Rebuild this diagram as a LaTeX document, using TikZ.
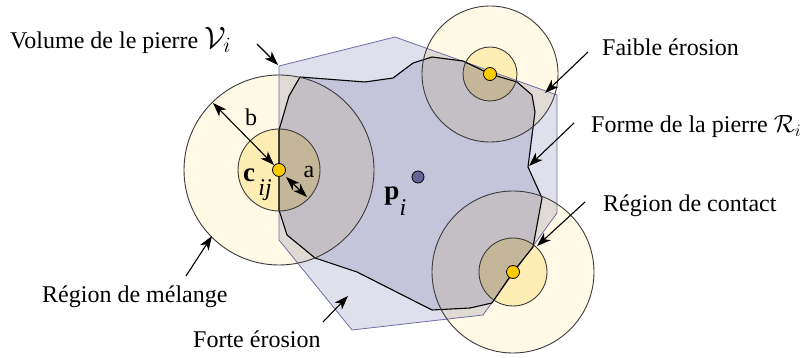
\documentclass[tikz,border=0pt]{standalone}
\usepackage{fix-cm}
\usepackage{fontspec}
\setmainfont{Liberation Serif}
\usetikzlibrary{arrows.meta}
\definecolor{outerc}{RGB}{255,249,230}
\definecolor{innerc}{RGB}{255,244,200}
\definecolor{dotc}{RGB}{255,204,0}
\definecolor{volc}{RGB}{224,224,236}
\definecolor{stonec}{RGB}{196,196,218}
\definecolor{volline}{RGB}{110,110,170}
\definecolor{pic}{RGB}{100,100,150}
\definecolor{circline}{RGB}{60,60,60}
\tikzset{
  lbl/.style={anchor=west,inner sep=0pt},
  tip/.tip={Stealth[length=14pt,width=10pt,inset=4pt]},
  ptr/.style={-tip,line width=1.1pt},
  dptr/.style={tip-tip,line width=1.1pt},
  ring/.style={draw=circline,line width=0.9pt},
  dot/.style={circle,draw=black,line width=0.8pt,fill=dotc,minimum size=13pt,inner sep=0pt},
}
\newcommand{\bigmath}[1]{{\fontsize{31}{34}\selectfont$#1$}}
\newcommand{\midmath}[1]{{\fontsize{25}{30}\selectfont$#1$}}
\begin{document}
\begin{tikzpicture}[x=1pt,y=-1pt,font=\fontsize{24}{28}\selectfont]
\useasboundingbox (0,0) rectangle (806,358);
% volume and stone
\fill[volc] (279,66) -- (395,37) -- (557,95) -- (557,213) -- (483,315) -- (352,330) -- (279,240) -- cycle;
\fill[stonec] (279,170) -- (279,130) -- (289,96) -- (300,77) -- (365,82) -- (393,78) -- (413,63) -- (432,57) -- (463,61) -- (490,74) -- (517,82) -- (532,95) -- (535,112) -- (528,167) -- (542,198) -- (533,247) -- (513,272) -- (492,303) -- (470,308) -- (432,310) -- (357,272) -- (315,258) -- (287,235) -- (279,210) -- cycle;
% circles (multiply)
\begin{scope}[blend mode=multiply]
\fill[outerc] (279,170) circle (95pt);
\fill[outerc] (490,74) circle (68pt);
\fill[outerc] (513,272) circle (81pt);
\fill[innerc] (279,170) circle (41pt);
\fill[innerc] (490,74) circle (27pt);
\fill[innerc] (513,272) circle (34pt);
\end{scope}
% outlines
\draw[volline,line width=0.8pt] (279,66) -- (395,37) -- (557,95) -- (557,213) -- (483,315) -- (352,330) -- (279,240) -- cycle;
\draw[black,line width=1.1pt,line join=round] (279,170) -- (279,130) -- (289,96) -- (300,77) -- (365,82) -- (393,78) -- (413,63) -- (432,57) -- (463,61) -- (490,74) -- (517,82) -- (532,95) -- (535,112) -- (528,167) -- (542,198) -- (533,247) -- (513,272) -- (492,303) -- (470,308) -- (432,310) -- (357,272) -- (315,258) -- (287,235) -- (279,210) -- cycle;
\draw[ring] (279,170) circle (95pt);
\draw[ring] (490,74) circle (68pt);
\draw[ring] (513,272) circle (81pt);
\draw[ring] (279,170) circle (41pt);
\draw[ring] (490,74) circle (27pt);
\draw[ring] (513,272) circle (34pt);
% dots
\node[dot] (c1) at (279,170) {};
\node[dot] (c2) at (490,74) {};
\node[dot] (c3) at (513,272) {};
\node[dot,fill=pic,minimum size=12pt] (pd) at (418,177) {};
% labels
\node[lbl] (vol) at (10,40) {Volume de le pierre \bigmath{\mathcal{V}_i}};
\node[lbl] (faible) at (602,47) {Faible érosion};
\node[lbl] (forme) at (591,127) {Forme de la pierre \midmath{\mathcal{R}_i}};
\node[lbl] (contact) at (603,206) {Région de contact};
\node[lbl] (melange) at (42,297) {Région de mélange};
\node[lbl] (forte) at (193,339) {Forte érosion};
\node[inner sep=0pt] (lb) at (251,117) {b};
\node[inner sep=0pt] (la) at (309,172) {a};
\node[inner sep=0pt] (lc) at (249,175) {\fontsize{27}{30}\selectfont\textbf{c}};
\node[inner sep=0pt] (lij) at (265,190) {\textit{ij}};
\node[inner sep=0pt] (lp) at (392,196) {\fontsize{27}{30}\selectfont\textbf{p}};
\node[inner sep=0pt] (lpi) at (403,208) {\textit{i}};
% arrow end points
\coordinate (v0) at (257,44); \coordinate (v1) at (278,65);
\coordinate (f0) at (588,52); \coordinate (f1) at (545,93);
\coordinate (r0) at (574,123); \coordinate (r1) at (529,166);
\coordinate (k0) at (585,202); \coordinate (k1) at (537,246);
\coordinate (m0) at (186,276); \coordinate (m1) at (212,236);
\coordinate (e0) at (323,322); \coordinate (e1) at (348,296);
\coordinate (b0) at (213,103); \coordinate (b1) at (274,165);
\coordinate (a0) at (286,177); \coordinate (a1) at (307,197);
\draw[ptr] (v0) -- (v1);
\draw[ptr] (f0) -- (f1);
\draw[ptr] (r0) -- (r1);
\draw[ptr] (k0) -- (k1);
\draw[ptr] (m0) -- (m1);
\draw[ptr] (e0) -- (e1);
\draw[dptr] (b0) -- (b1);
\draw[dptr] (a0) -- (a1);
\end{tikzpicture}
\end{document}
